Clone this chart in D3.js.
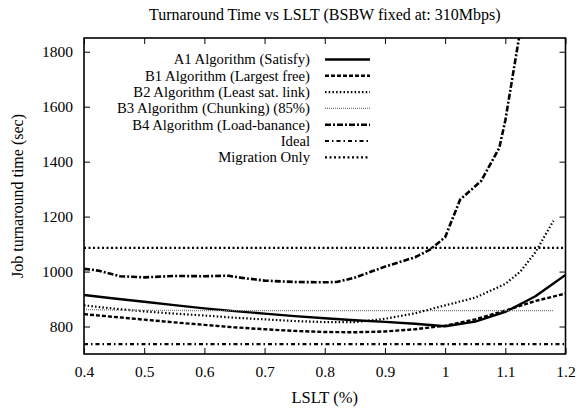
<!DOCTYPE html>
<html>
<head>
<meta charset="utf-8">
<script src="https://cdn.jsdelivr.net/npm/d3@7"></script>
<style>
  html, body { margin: 0; padding: 0; background: #fff; }
  svg { display: block; }
</style>
</head>
<body>
<div id="chart"></div>
<script>
// LSLT sample points (fraction) shared by most series
const lslt = [0.40, 0.45, 0.50, 0.55, 0.60, 0.65, 0.70, 0.75, 0.80, 0.85, 0.90, 0.95, 1.00, 1.05, 1.10, 1.15, 1.20];

// Job turnaround time (sec) per algorithm
const a1Satisfy      = [915, 902, 890, 878, 866, 856, 847, 838, 830, 823, 817, 810, 801, 818, 853, 910, 988];
const b1LargestFree  = [845, 835, 825, 815, 806, 797, 790, 784, 780, 779, 782, 790, 803, 826, 858, 893, 920];

const b2X            = [0.40, 0.45, 0.50, 0.55, 0.60, 0.65, 0.70, 0.75, 0.80, 0.85, 0.90, 0.95, 1.00, 1.05, 1.10, 1.125, 1.15, 1.18];
const b2LeastSat     = [877, 865, 855, 847, 840, 832, 826, 820, 816, 816, 828, 848, 877, 905, 955, 1000, 1070, 1185];

const b3X            = [0.40, 0.45, 0.50, 0.60, 0.70, 0.80, 0.90, 1.00, 1.10, 1.18];
const b3Chunking     = [862, 860, 859, 858, 858, 858, 858, 858, 858, 858];

const b4X            = [0.40, 0.425, 0.46, 0.50, 0.55, 0.60, 0.64, 0.66, 0.70, 0.75, 0.80, 0.82, 0.85, 0.90, 0.95, 0.975, 1.00, 1.025, 1.06, 1.09, 1.10, 1.125];
const b4LoadBalance  = [1010, 1003, 983, 979, 984, 983, 985, 978, 967, 962, 961, 962, 978, 1018, 1052, 1080, 1125, 1262, 1330, 1450, 1550, 1880];

const idealX         = [0.40, 1.20];
const ideal          = [736, 736];
const migrationX     = [0.40, 1.20];
const migrationOnly  = [1086, 1086];

const xTicks = [0.4, 0.5, 0.6, 0.7, 0.8, 0.9, 1, 1.1, 1.2];
const yTicks = [800, 1000, 1200, 1400, 1600, 1800];

const legendLabels = [
  "A1 Algorithm (Satisfy)",
  "B1 Algorithm (Largest free)",
  "B2 Algorithm (Least sat. link)",
  "B3 Algorithm (Chunking) (85%)",
  "B4 Algorithm (Load-banance)",
  "Ideal",
  "Migration Only"
];

const FONT = "'Liberation Serif', 'Times New Roman', serif";
const W = 579, H = 408;
const plot = { left: 84, right: 565.5, top: 38, bottom: 354 };

const svg = d3.select("#chart").append("svg").attr("width", W).attr("height", H);

const x = d3.scaleLinear().domain([0.4, 1.2]).range([plot.left, plot.right]);
const y = d3.scaleLinear().domain([700, 1850]).range([plot.bottom, plot.top]);

// line styles for each series
const styles = [
  { stroke: "#000", width: 2.4, dash: null },
  { stroke: "#000", width: 2.4, dash: "4,2" },
  { stroke: "#000", width: 2.2, dash: "1.5,2.2" },
  { stroke: "#7a7a7a", width: 1.3, dash: "1,1" },
  { stroke: "#000", width: 2.6, dash: "6,2,2,2" },
  { stroke: "#000", width: 2.2, dash: "4,3,1.5,3" },
  { stroke: "#000", width: 2.2, dash: "2,2.5" }
];

const series = [
  { xs: lslt, ys: a1Satisfy },
  { xs: lslt, ys: b1LargestFree },
  { xs: b2X, ys: b2LeastSat },
  { xs: b3X, ys: b3Chunking },
  { xs: b4X, ys: b4LoadBalance },
  { xs: idealX, ys: ideal },
  { xs: migrationX, ys: migrationOnly }
];

svg.append("clipPath").attr("id", "plotclip")
  .append("rect")
  .attr("x", plot.left).attr("y", plot.top)
  .attr("width", plot.right - plot.left).attr("height", plot.bottom - plot.top);

const line = d3.line().x(d => x(d[0])).y(d => y(d[1]));

// legend (key at top-left, labels right-aligned before their samples)
const legend = svg.append("g");
const keyTextX = 310, keySampleX0 = 325, keySampleX1 = 370, keyRow0 = 59.5, keyStep = 16.3;
legendLabels.forEach((label, i) => {
  const cy = keyRow0 + i * keyStep;
  legend.append("text")
    .attr("x", keyTextX).attr("y", cy + 4.8)
    .attr("text-anchor", "end")
    .style("font-family", FONT)
    .style("font-size", "14.7px")
    .text(label);
  const s = styles[i];
  legend.append("line")
    .attr("x1", keySampleX0).attr("x2", keySampleX1)
    .attr("y1", cy).attr("y2", cy)
    .attr("stroke", s.stroke).attr("stroke-width", s.width)
    .attr("stroke-dasharray", s.dash);
});

// data lines
const gLines = svg.append("g").attr("clip-path", "url(#plotclip)");
series.forEach((sr, i) => {
  const s = styles[i];
  gLines.append("path")
    .datum(sr.xs.map((v, k) => [v, sr.ys[k]]))
    .attr("d", line)
    .attr("fill", "none")
    .attr("stroke", s.stroke)
    .attr("stroke-width", s.width)
    .attr("stroke-dasharray", s.dash)
    .attr("stroke-linejoin", "round");
});

// axes: inward ticks mirrored on all four sides
const tickLen = 6;
const axisBottom = d3.axisBottom(x).tickValues(xTicks).tickSizeInner(-tickLen).tickSizeOuter(0).tickPadding(12)
  .tickFormat(d => String(+d.toFixed(1)));
const axisLeft = d3.axisLeft(y).tickValues(yTicks).tickSizeInner(-tickLen).tickSizeOuter(0).tickPadding(11)
  .tickFormat(d3.format("d"));
const axisTop = d3.axisTop(x).tickValues(xTicks).tickSizeInner(-tickLen).tickSizeOuter(0).tickFormat("");
const axisRight = d3.axisRight(y).tickValues(yTicks).tickSizeInner(-tickLen).tickSizeOuter(0).tickFormat("");

function styleAxis(g) {
  g.select(".domain").remove();
  g.selectAll(".tick line").attr("stroke", "#000").attr("stroke-width", 1);
  g.selectAll(".tick text")
    .style("font-family", FONT).style("font-size", "15.5px").attr("fill", "#000");
}

svg.append("g").attr("transform", `translate(0,${plot.bottom})`).call(axisBottom).call(styleAxis);
svg.append("g").attr("transform", `translate(${plot.left},0)`).call(axisLeft).call(styleAxis);
svg.append("g").attr("transform", `translate(0,${plot.top})`).call(axisTop).call(styleAxis);
svg.append("g").attr("transform", `translate(${plot.right},0)`).call(axisRight).call(styleAxis);

// plot border
svg.append("rect")
  .attr("x", plot.left).attr("y", plot.top)
  .attr("width", plot.right - plot.left).attr("height", plot.bottom - plot.top)
  .attr("fill", "none").attr("stroke", "#000").attr("stroke-width", 1.6);

// titles
svg.append("text")
  .attr("x", (plot.left + plot.right) / 2).attr("y", 20)
  .attr("text-anchor", "middle")
  .style("font-family", FONT).style("font-size", "16px")
  .text("Turnaround Time vs LSLT (BSBW fixed at: 310Mbps)");

svg.append("text")
  .attr("x", (plot.left + plot.right) / 2).attr("y", 403)
  .attr("text-anchor", "middle")
  .style("font-family", FONT).style("font-size", "16.5px")
  .text("LSLT (%)");

svg.append("text")
  .attr("transform", `translate(23,${(plot.top + plot.bottom) / 2}) rotate(-90)`)
  .attr("text-anchor", "middle")
  .style("font-family", FONT).style("font-size", "16px")
  .text("Job turnaround time (sec)");
</script>
</body>
</html>
